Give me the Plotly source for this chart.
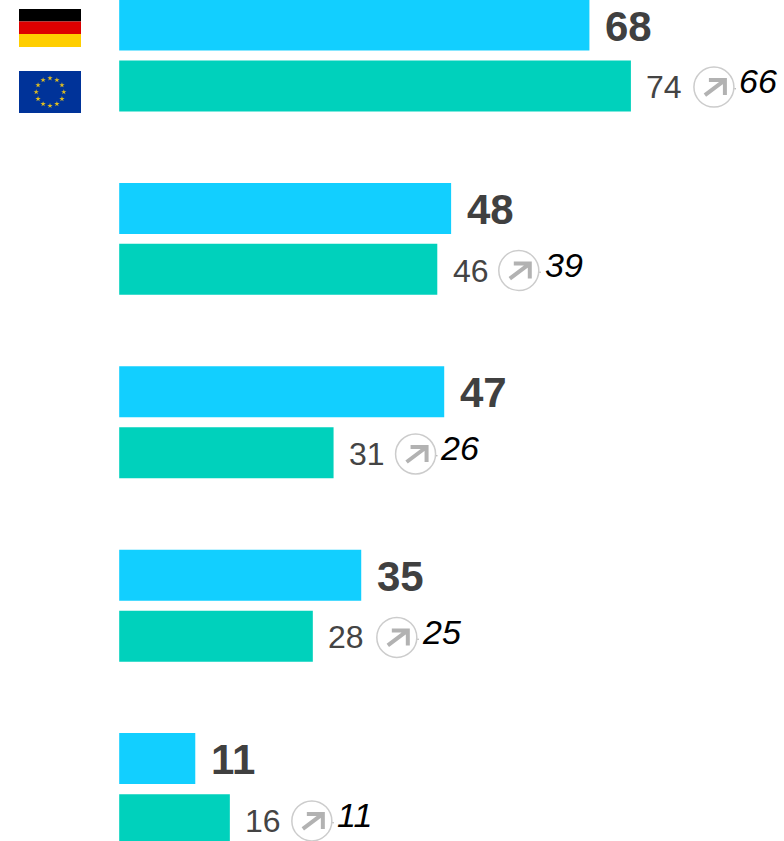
import math
import plotly.graph_objects as go

germany = [68, 48, 47, 35, 11]
eu = [74, 46, 31, 28, 16]
previous = [66, 39, 26, 25, 11]

W, H = 784, 841
X0 = 119.2
SCALE = 6.915
BLUE_Y = 25
BLUE_STEP = 183.4
TEAL_Y = 85.9
TEAL_STEP = 183.45
BAR_PX = 51
FONT = "Liberation Sans, Arial, sans-serif"
BLUE = "#12CFFF"
TEAL = "#00D1BC"
CIRCLE_GAP = [83, 81.5, 82, 84, 82]
PREV_GAP = [106.5, 105.5, 104.5, 107, 105.5]

rows = list(range(len(germany)))
y_blue = [BLUE_Y + BLUE_STEP * i for i in rows]
y_teal = [TEAL_Y + TEAL_STEP * i for i in rows]


def px_x(p):
    return (p - X0) / SCALE


fig = go.Figure()
fig.add_bar(x=germany, y=y_blue, orientation="h", width=BAR_PX, marker=dict(color=BLUE, line_width=0),
            showlegend=False, hoverinfo="skip")
fig.add_bar(x=eu, y=y_teal, orientation="h", width=BAR_PX, marker=dict(color=TEAL, line_width=0),
            showlegend=False, hoverinfo="skip")

# EU flag stars
star_n = 12
fig.add_scatter(
    x=[px_x(50 + 13.8 * math.sin(2 * math.pi * k / star_n)) for k in range(star_n)],
    y=[92 - 13.8 * math.cos(2 * math.pi * k / star_n) for k in range(star_n)],
    mode="markers", marker=dict(symbol="star", size=4, color="#E0BE20", line_width=0),
    showlegend=False, hoverinfo="skip", cliponaxis=False)

shapes = []


def rect(x0, x1, y0, y1, color):
    shapes.append(dict(type="rect", xref="paper", yref="y", x0=x0 / W, x1=x1 / W, y0=y0, y1=y1,
                       fillcolor=color, line_width=0, layer="below"))


rect(19, 81, 9, 21.5, "#000000")
rect(19, 81, 21.5, 34, "#DD0000")
rect(19, 81, 34, 47, "#FFCE00")
rect(19, 81, 71, 113, "#003399")

annotations = []
for i in rows:
    annotations.append(dict(x=germany[i], y=y_blue[i] + 1, xref="x", yref="y", text=str(germany[i]),
                            xanchor="left", yanchor="middle", xshift=13.5, showarrow=False,
                            font=dict(family=FONT, size=42, color="#404040", weight="bold")))
    annotations.append(dict(x=eu[i], y=y_teal[i] + 1.2, xref="x", yref="y", text=str(eu[i]),
                            xanchor="left", yanchor="middle", xshift=13.5, showarrow=False,
                            font=dict(family=FONT, size=32, color="#444444")))
    annotations.append(dict(x=eu[i], y=y_teal[i] - 4.5, xref="x", yref="y", text=str(previous[i]),
                            xanchor="left", yanchor="middle", xshift=PREV_GAP[i], showarrow=False,
                            font=dict(family=FONT, size=34, color="#000000", style="italic")))
    anchor = dict(xref="x", yref="y", xsizemode="pixel", ysizemode="pixel",
                  xanchor=eu[i], yanchor=y_teal[i] + 1.2)
    cx = CIRCLE_GAP[i]
    shapes.append(dict(type="circle", x0=cx - 20, x1=cx + 20, y0=-20, y1=20,
                       line=dict(color="#CCCCCC", width=1.5), fillcolor="rgba(0,0,0,0)", **anchor))
    shapes.append(dict(type="path",
                       path=f"M {cx-9},-8 L {cx+11},7 M {cx-5},7 L {cx+11},7 L {cx+11},-8",
                       line=dict(color="#B2B2B2", width=4), **anchor))
    shapes.append(dict(type="circle", x0=cx + 20.5, x1=cx + 22, y0=-2.5, y1=-1,
                       line_width=0, fillcolor="#AAAAAA", **anchor))

fig.update_layout(
    width=W, height=H, margin=dict(l=0, r=0, t=0, b=0),
    paper_bgcolor="white", plot_bgcolor="white", barmode="overlay",
    xaxis=dict(range=[px_x(0), px_x(W)], visible=False, fixedrange=True),
    yaxis=dict(range=[H, 0], visible=False, fixedrange=True),
    shapes=shapes, annotations=annotations,
)
fig.write_html("out.html", config=dict(displayModeBar=False),
               post_script="document.body.style.margin='0';document.body.style.overflow='hidden';")
